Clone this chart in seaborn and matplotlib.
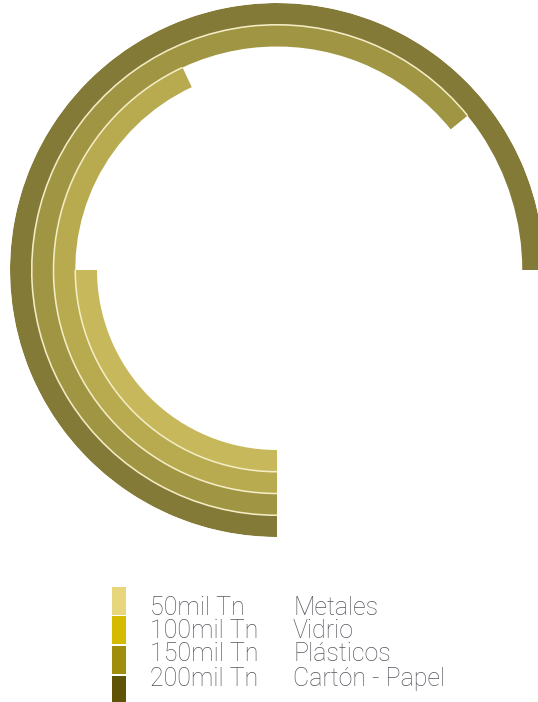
import numpy as np
import matplotlib
matplotlib.use("Agg")
import matplotlib.pyplot as plt
from matplotlib.patches import Rectangle
import seaborn as sns

# Recycled material by category (thousand tonnes) and the sweep of each ring
categories = ["Metales", "Vidrio", "Plásticos", "Cartón - Papel"]
amounts = [50, 100, 150, 200]
amount_labels = ["50mil Tn", "100mil Tn", "150mil Tn", "200mil Tn"]
arc_degrees = [90, 155, 231, 270]

ring_colors = ["#c7b95b", "#b8aa4f", "#a09542", "#847a38"]
legend_colors = ["#e8d67c", "#d5bb00", "#9f8e0b", "#5f5306"]

sns.set_theme(style="white")
plt.rcParams["font.family"] = ["Roboto", "DejaVu Sans"]

W, H = 538, 702
fig = plt.figure(figsize=(W / 100, H / 100), dpi=100)
fig.patch.set_facecolor("white")

# Polar axes in pixel units: centre and outer radius of the rings
cx, cy, R = 277, 270, 267
r_in = 180
ring_w = (R - r_in) / len(categories)
ax = fig.add_axes([(cx - R) / W, (H - cy - R) / H, 2 * R / W, 2 * R / H],
                  projection="polar")
ax.set_theta_zero_location("S")
ax.set_theta_direction(-1)
ax.set_ylim(0, R)
ax.axis("off")

for i, (deg, col) in enumerate(zip(arc_degrees, ring_colors)):
    ax.bar(0, ring_w, width=np.deg2rad(deg), bottom=r_in + i * ring_w,
           align="edge", color=col, linewidth=0)

# Pale separators between neighbouring rings
for i in range(len(categories) - 1):
    ax.bar(0, 1.6, width=np.deg2rad(arc_degrees[i]),
           bottom=r_in + (i + 1) * ring_w - 0.8, align="edge",
           color="#f3ecc4", linewidth=0)

# Legend drawn in pixel coordinates
lg = fig.add_axes([0, 0, 1, 1])
lg.set_xlim(0, W)
lg.set_ylim(H, 0)
lg.axis("off")
lg.patch.set_alpha(0)

sw_top = [587, 616, 646, 676]
baselines = [615, 638, 661, 686]
for i in range(len(categories)):
    lg.add_patch(Rectangle((112, sw_top[i]), 14, 28, color=legend_colors[i],
                           linewidth=0))
    lg.text(150, baselines[i], amount_labels[i], fontsize=18, color="#55555e",
            fontweight="light", va="baseline", ha="left")
    lg.text(293, baselines[i], categories[i], fontsize=18, color="#55555e",
            fontweight="light", va="baseline", ha="left")

fig.savefig("out.png", dpi=100)
